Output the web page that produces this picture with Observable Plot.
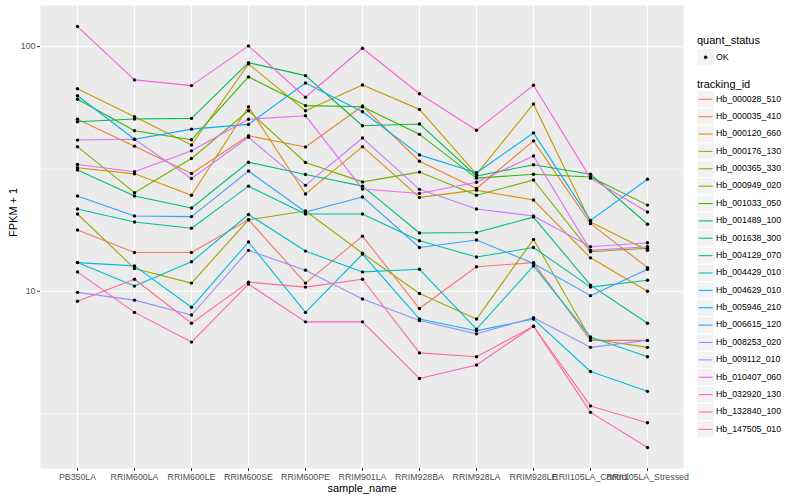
<!DOCTYPE html>
<html>
<head>
<meta charset="utf-8">
<script src="https://cdn.jsdelivr.net/npm/d3@7"></script>
<script src="https://cdn.jsdelivr.net/npm/@observablehq/plot@0.6"></script>
<style>
  body { margin: 0; background: #fff; }
  #wrap { position: relative; width: 800px; height: 500px; font-family: "Liberation Sans", Arial, sans-serif; }
  #chart { position: absolute; left: 0; top: 0; }
  #legend { position: absolute; left: 683px; top: 0; }
</style>
</head>
<body>
<div id="wrap"><div id="chart"></div><div id="legend"></div></div>
<script>
const samples = ["PB350LA","RRIM600LA","RRIM600LE","RRIM600SE","RRIM600PE","RRIM901LA","RRIM928BA","RRIM928LA","RRIM928LE","RRII105LA_Control","RRII105LA_Stressed"];

const Hb_000028_510 = [17.8, 14.4, 14.4, 19.6, 10.8, 16.8, 8.5, 12.6, 13.1, 6.3, 6.3];
const Hb_000035_410 = [50.5, 39.2, 30.3, 43.2, 38.9, 57.2, 34.0, 26.3, 41.2, 18.9, 12.5];
const Hb_000120_660 = [32.0, 30.2, 24.7, 56.8, 25.0, 39.0, 24.2, 25.9, 23.6, 13.7, 10.0];
const Hb_000176_130 = [67.3, 51.7, 39.6, 85.0, 54.7, 69.7, 55.4, 30.1, 58.3, 19.2, 14.7];
const Hb_000365_330 = [20.7, 12.4, 10.8, 19.6, 21.3, 14.3, 9.8, 7.7, 16.3, 6.4, 5.9];
const Hb_000949_020 = [39.0, 25.3, 34.9, 54.7, 33.6, 28.0, 30.7, 24.7, 28.5, 14.5, 15.0];
const Hb_001033_050 = [60.9, 45.3, 41.6, 75.2, 57.4, 56.8, 43.8, 29.0, 30.1, 29.3, 22.5];
const Hb_001489_100 = [49.3, 50.6, 50.9, 86.0, 76.1, 47.5, 48.3, 29.6, 32.9, 30.1, 18.8];
const Hb_001638_300 = [31.3, 24.5, 21.9, 33.7, 30.0, 26.9, 17.3, 17.4, 20.1, 10.6, 7.4];
const Hb_004129_070 = [21.7, 19.2, 18.1, 26.9, 20.7, 20.7, 16.1, 13.8, 15.1, 10.4, 11.1];
const Hb_004429_010 = [13.1, 10.5, 13.2, 20.6, 14.6, 12.0, 12.3, 7.0, 12.7, 6.5, 5.4];
const Hb_004629_010 = [13.1, 12.7, 8.6, 15.9, 8.2, 14.2, 7.7, 6.9, 7.7, 4.7, 3.9];
const Hb_005946_210 = [63.0, 41.8, 46.0, 48.1, 71.0, 54.2, 36.1, 30.5, 44.4, 19.5, 28.7];
const Hb_006615_120 = [24.5, 20.3, 20.2, 31.0, 21.1, 24.3, 15.1, 16.2, 13.0, 9.6, 12.3];
const Hb_008253_020 = [9.9, 9.2, 8.0, 14.7, 12.2, 9.3, 7.6, 6.7, 7.8, 5.9, 6.3];
const Hb_009112_010 = [41.5, 41.8, 28.9, 42.6, 27.1, 42.3, 26.1, 21.7, 20.3, 15.2, 15.8];
const Hb_010407_060 = [33.0, 30.8, 37.5, 50.5, 52.2, 26.2, 25.1, 27.9, 35.7, 14.7, 15.2];
const Hb_032920_130 = [120.8, 73.1, 69.3, 100.7, 62.1, 98.5, 64.2, 45.5, 69.5, 29.0, 21.1];
const Hb_132840_100 = [12.0, 8.2, 6.2, 10.7, 7.5, 7.5, 4.4, 5.0, 7.2, 3.2, 2.3];
const Hb_147505_010 = [9.1, 11.2, 7.4, 10.9, 10.4, 11.2, 5.6, 5.4, 7.2, 3.4, 2.9];

const ids = ["Hb_000028_510","Hb_000035_410","Hb_000120_660","Hb_000176_130","Hb_000365_330","Hb_000949_020","Hb_001033_050","Hb_001489_100","Hb_001638_300","Hb_004129_070","Hb_004429_010","Hb_004629_010","Hb_005946_210","Hb_006615_120","Hb_008253_020","Hb_009112_010","Hb_010407_060","Hb_032920_130","Hb_132840_100","Hb_147505_010"];
const seriesValues = [Hb_000028_510,Hb_000035_410,Hb_000120_660,Hb_000176_130,Hb_000365_330,Hb_000949_020,Hb_001033_050,Hb_001489_100,Hb_001638_300,Hb_004129_070,Hb_004429_010,Hb_004629_010,Hb_005946_210,Hb_006615_120,Hb_008253_020,Hb_009112_010,Hb_010407_060,Hb_032920_130,Hb_132840_100,Hb_147505_010];
const palette = ["#F8766D","#EA8331","#D89000","#C09B00","#A3A500","#7CAE00","#39B600","#00BB4E","#00BF7D","#00C1A3","#00BFC4","#00BAE0","#00B0F6","#35A2FF","#9590FF","#C77CFF","#E76BF3","#FA62DB","#FF62BC","#FF6C91"];
const yTicks = [10, 100];
const quantStatus = ["OK"];

const rows = [];
ids.forEach((id, i) => seriesValues[i].forEach((v, j) => rows.push({id, sample: samples[j], fpkm: v, status: "OK"})));

// ggplot-style 5% expansion in log space
const ext = d3.extent(rows, d => Math.log10(d.fpkm));
const pad = (ext[1] - ext[0]) * 0.05;
const yDomain = [10 ** (ext[0] - pad), 10 ** (ext[1] + pad)];
const minor = [Math.sqrt(10), Math.sqrt(1000)];

const chart = Plot.plot({
  width: 800, height: 500,
  marginLeft: 40, marginRight: 117, marginTop: 5, marginBottom: 32,
  style: {fontFamily: "Liberation Sans, Arial, sans-serif", fontSize: "8.8px", background: "white", overflow: "visible"},
  x: {type: "point", domain: samples, padding: 0.6, label: null},
  y: {type: "log", domain: yDomain, label: null},
  color: {domain: ids, range: palette},
  marks: [
    Plot.frame({fill: "#EBEBEB", stroke: null}),
    Plot.ruleY(minor, {stroke: "white", strokeWidth: 0.55}),
    Plot.ruleY(yTicks, {stroke: "white", strokeWidth: 1.1}),
    Plot.ruleX(samples, {stroke: "white", strokeWidth: 1.1}),
    Plot.line(rows, {x: "sample", y: "fpkm", z: "id", stroke: "id", strokeWidth: 1.1}),
    Plot.dot(rows, {x: "sample", y: "fpkm", r: 1.7, fill: "black", stroke: null}),
    Plot.axisY({ticks: yTicks, tickFormat: d => String(d), tickSize: 3, tickPadding: 2, color: "#4D4D4D", stroke: "#333333", label: null}),
    Plot.axisX({tickSize: 3, tickPadding: 2, color: "#4D4D4D", stroke: "#333333", label: null}),
    Plot.text(["sample_name"], {frameAnchor: "bottom", dy: 20, fontSize: 11, fill: "black", lineAnchor: "middle"}),
    Plot.text(["FPKM + 1"], {frameAnchor: "left", dx: -27, rotate: -90, fontSize: 11, fill: "black", lineAnchor: "middle"})
  ]
});
document.getElementById("chart").appendChild(chart);

// Legend (ggplot style)
const lg = d3.select("#legend").append("svg").attr("width", 117).attr("height", 460)
  .style("font-family", "Liberation Sans, Arial, sans-serif");
const kx = 14, ks = 17.3, tx = 33;
lg.append("text").attr("x", kx).attr("y", 41).attr("dominant-baseline", "middle").attr("font-size", 11).text("quant_status");
quantStatus.forEach((q, i) => {
  const cy = 57.3 + i * ks;
  lg.append("rect").attr("x", kx).attr("y", cy - ks / 2).attr("width", ks).attr("height", ks).attr("fill", "#F2F2F2").attr("stroke", "white");
  lg.append("circle").attr("cx", kx + ks / 2).attr("cy", cy).attr("r", 1.7).attr("fill", "black");
  lg.append("text").attr("x", tx).attr("y", cy).attr("dominant-baseline", "middle").attr("font-size", 8.8).text(q);
});
lg.append("text").attr("x", kx).attr("y", 85).attr("dominant-baseline", "middle").attr("font-size", 11).text("tracking_id");
ids.forEach((id, i) => {
  const cy = 99.3 + i * 17.37;
  lg.append("rect").attr("x", kx).attr("y", cy - ks / 2).attr("width", ks).attr("height", ks).attr("fill", "#F2F2F2").attr("stroke", "white");
  lg.append("line").attr("x1", kx + 1.7).attr("x2", kx + ks - 1.7).attr("y1", cy).attr("y2", cy).attr("stroke", palette[i]).attr("stroke-width", 1.1);
  lg.append("text").attr("x", tx).attr("y", cy).attr("dominant-baseline", "middle").attr("font-size", 8.8).text(id);
});
</script>
</body>
</html>
